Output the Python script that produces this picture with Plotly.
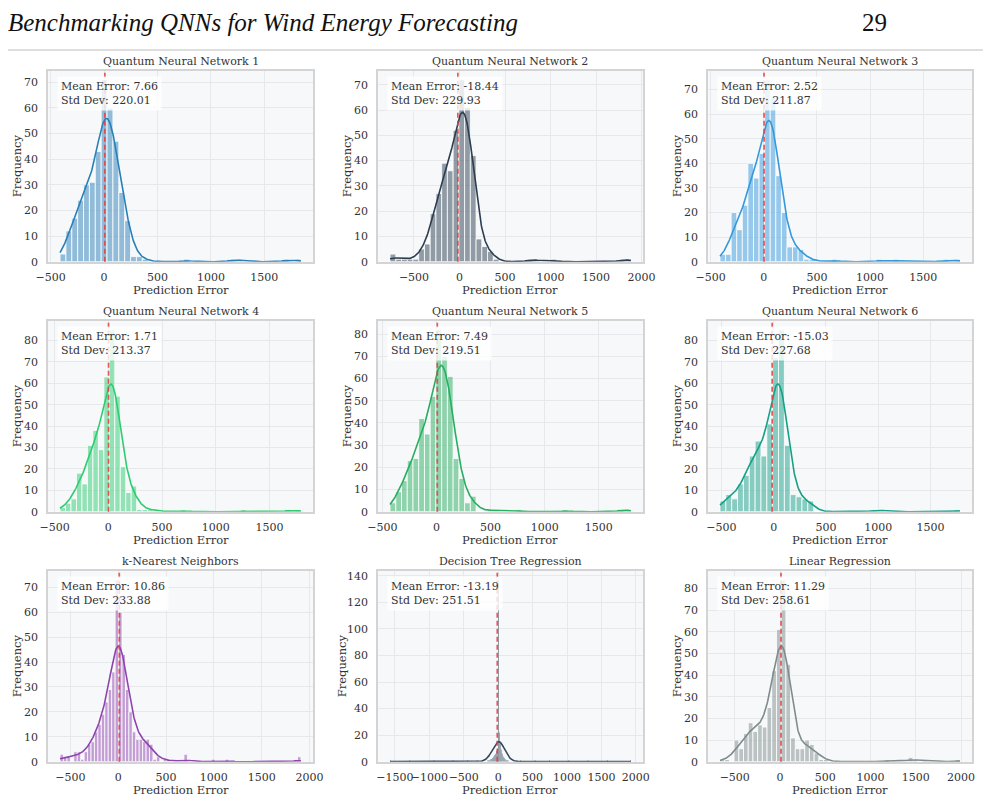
import numpy as np
import plotly.graph_objects as go

W, H = 991, 807
OFF = 8  # the page body margin shifts the figure by this much, so draw it that much up/left

titles = ["Quantum Neural Network 1", "Quantum Neural Network 2", "Quantum Neural Network 3",
          "Quantum Neural Network 4", "Quantum Neural Network 5", "Quantum Neural Network 6",
          "k-Nearest Neighbors", "Decision Tree Regression", "Linear Regression"]
colors = ["#2980b9", "#2c3e50", "#3498db", "#2ecc71", "#27ae60", "#16a085",
          "#8e44ad", "#34495e", "#7f8c8d"]
mean_errors = [7.66, -18.44, 2.52, 1.71, 7.49, -15.03, 10.86, -13.19, 11.29]
std_devs = [220.01, 229.93, 211.87, 213.37, 219.51, 227.68, 233.88, 251.51, 258.61]

# histogram bins: first edge, bin width, counts per bin
qnn1_start, qnn1_width = -412, 55
qnn1_counts = [3, 12, 17, 24, 30, 31, 43, 71, 60, 47, 27, 16, 2, 2, 1,
               0, 0, 0, 0, 0, 0, 1, 0, 0, 0, 0, 0, 0, 0, 1, 1,
               0, 0, 0, 0, 0, 0, 0, 1, 0, 1]

qnn2_start, qnn2_width = -763, 63
qnn2_counts = [3, 1, 1, 1, 1, 5, 7, 19, 27, 39, 36, 52, 72, 61, 42, 9, 6, 4, 1,
               0, 0, 0, 0, 0, 1, 1, 0, 0, 1,
               0, 0, 0, 0, 0, 0, 0, 0, 0, 0, 0, 1, 1]

qnn3_start, qnn3_width = -412, 52.5
qnn3_counts = [3, 3, 20, 13, 23, 40, 34, 44, 74, 67, 35, 20, 6, 6, 5, 1, 1,
               0, 0, 0, 1, 0, 0, 0, 0, 0, 0, 0, 1, 0, 0, 1,
               0, 0, 0, 0, 0, 0, 0, 0, 1, 0, 1]

qnn4_start, qnn4_width = -450, 51
qnn4_counts = [2, 4, 6, 18, 13, 31, 38, 29, 63, 85, 54, 21, 9, 12, 1, 1, 1, 1,
               0, 0, 0, 0, 1, 0, 0, 0, 0, 0, 0, 0, 0, 0, 0, 1,
               0, 0, 0, 0, 0, 0, 0, 1, 0, 1]

qnn5_start, qnn5_width = -429, 53
qnn5_counts = [4, 9, 14, 23, 24, 42, 35, 52, 82, 70, 61, 24, 15, 4, 7,
               0, 0, 1, 1, 0, 0, 0, 1, 0, 0, 0, 0, 0, 0, 0, 1,
               0, 0, 0, 0, 0, 0, 0, 0, 0, 1, 1]

qnn6_start, qnn6_width = -514, 56
qnn6_counts = [5, 8, 6, 13, 17, 26, 33, 26, 41, 72, 85, 31, 8, 7, 6, 5,
               0, 0, 0, 0, 0, 0, 0, 0, 0, 0, 1, 1,
               0, 0, 0, 0, 0, 0, 0, 0, 0, 0, 0, 0, 1]

knn_start, knn_width = -609, 36
knn_counts = [3, 2, 2, 0, 4, 4, 1, 4, 7, 8, 12, 15, 19, 24, 29, 36, 73, 60, 43, 29,
              20, 12, 9, 9, 8, 9, 7, 1, 2, 0, 1, 1,
              0, 0, 0, 0, 3, 0, 0, 0, 0, 0, 0, 0, 1, 0, 0, 0, 1,
              0, 0, 0, 0, 0, 0, 0, 0, 0, 0, 0, 0, 0, 0, 0, 0, 0, 0, 0, 0, 2]

# decision tree: very narrow bins, nearly everything sits around zero
dt_start, dt_width, dt_nbins = -1571, 14, 250
dt_core_first = 101
dt_core_counts = [1, 1, 1, 2, 2, 3, 4, 5, 6, 8, 10, 137, 22, 14, 9, 6, 4, 3, 2, 1, 1, 1]
dt_outlier_bins = [0, 20, 45, 65, 80, 90, 135, 150, 165, 185, 205, 225, 249]

lr_start, lr_width = -663, 52
lr_counts = [1, 1, 0, 10, 6, 13, 18, 14, 17, 16, 25, 42, 61, 84, 45, 11, 6, 6, 10, 8, 4, 1, 1,
             0, 0, 0, 0, 0, 0, 0, 0, 0, 0, 0, 0, 1, 0, 0, 0, 0, 2, 1, 0, 1,
             0, 0, 0, 0, 0, 0, 1]

dt_counts = [0] * dt_nbins
for k, c in enumerate(dt_core_counts):
    dt_counts[dt_core_first + k] = c
for k in dt_outlier_bins:
    dt_counts[k] += 1

hists = [(qnn1_start, qnn1_width, qnn1_counts), (qnn2_start, qnn2_width, qnn2_counts),
         (qnn3_start, qnn3_width, qnn3_counts), (qnn4_start, qnn4_width, qnn4_counts),
         (qnn5_start, qnn5_width, qnn5_counts), (qnn6_start, qnn6_width, qnn6_counts),
         (knn_start, knn_width, knn_counts), (dt_start, dt_width, dt_counts),
         (lr_start, lr_width, lr_counts)]


def kde_curve(start, width, counts, std):
    # gaussian kde on the binned values, scaled to counts like seaborn does
    c = np.asarray(counts, float)
    edges = start + width * np.arange(len(c) + 1)
    mids = edges[:-1] + width / 2
    bw = std * c.sum() ** (-0.2)
    xs = np.linspace(edges[0], edges[-1], 500)
    z = (xs[:, None] - mids[None, :]) / bw
    dens = (c[None, :] * np.exp(-0.5 * z ** 2)).sum(axis=1) / (bw * np.sqrt(2 * np.pi))
    return xs, dens * width


def rgba(hexcol, a):
    h = hexcol.lstrip("#")
    return "rgba(%d,%d,%d,%s)" % (int(h[0:2], 16), int(h[2:4], 16), int(h[4:6], 16), a)


def px(x):
    return (x - OFF) / W


def py(y):
    return 1 - (y - OFF) / H


font = "DejaVu Serif"
txt = "#333333"
col_px = [(48, 313), (378, 643), (708, 972)]
row_px = [(70.7, 261.7), (320.7, 511.7), (570.7, 761.7)]

fig = go.Figure()
shapes = []
annotations = []
layout_axes = {}

for i in range(9):
    r, c = divmod(i, 3)
    start, width, counts = hists[i]
    counts = np.asarray(counts, float)
    edges = start + width * np.arange(len(counts) + 1)
    mids = edges[:-1] + width / 2
    suffix = "" if i == 0 else str(i + 1)
    xa, ya = "x" + suffix, "y" + suffix
    line_w = 0 if width < 20 else 0.8

    fig.add_trace(go.Bar(x=mids, y=counts, width=width, xaxis=xa, yaxis=ya,
                         marker=dict(color=rgba(colors[i], 0.5),
                                     line=dict(color="white", width=line_w)),
                         showlegend=False, hoverinfo="skip"))
    xs, ks = kde_curve(start, width, counts, std_devs[i])
    fig.add_trace(go.Scatter(x=xs, y=ks, mode="lines", xaxis=xa, yaxis=ya,
                             line=dict(color=colors[i], width=1.6),
                             showlegend=False, hoverinfo="skip"))

    span = edges[-1] - edges[0]
    x0, x1 = col_px[c]
    y0, y1 = row_px[r]
    layout_axes["xaxis" + suffix] = dict(
        domain=[px(x0), px(x1)], anchor=ya, range=[edges[0] - 0.05 * span, edges[-1] + 0.05 * span],
        dtick=500, tickangle=0, automargin=False,
        showgrid=True, gridcolor="#e6e8eb", gridwidth=1, zeroline=False,
        showline=True, linecolor="#d4d4d4", linewidth=1.5, mirror=True,
        ticks="", ticklabelstandoff=4, tickfont=dict(family=font, size=11, color=txt))
    layout_axes["yaxis" + suffix] = dict(
        domain=[py(y1), py(y0)], anchor=xa, range=[0, counts.max() * 1.05],
        dtick=20 if counts.max() > 100 else 10, automargin=False,
        showgrid=True, gridcolor="#e6e8eb", gridwidth=1,
        zeroline=False, showline=True, linecolor="#d4d4d4", linewidth=1.5, mirror=True,
        ticks="", ticklabelstandoff=6, tickfont=dict(family=font, size=11, color=txt))

    shapes.append(dict(type="line", xref=xa, yref=ya + " domain", x0=mean_errors[i], x1=mean_errors[i],
                       y0=0, y1=1, line=dict(color="rgba(231,60,60,0.85)", width=1.7, dash="5px,3px")))

    annotations.append(dict(
        xref=xa + " domain", yref=ya + " domain", x=0.035, y=0.97, xanchor="left", yanchor="top",
        text="Mean Error: %.2f<br>Std Dev: %.2f" % (mean_errors[i], std_devs[i]),
        showarrow=False, align="left", bgcolor="rgba(255,255,255,0.8)", borderpad=3,
        font=dict(family=font, size=11, color=txt)))
    annotations.append(dict(
        xref="paper", yref="paper", x=px((x0 + x1) / 2), y=py(y0 - 9.5),
        text=titles[i], showarrow=False, xanchor="center", yanchor="middle",
        font=dict(family=font, size=11, color=txt)))
    annotations.append(dict(
        xref="paper", yref="paper", x=px((x0 + x1) / 2), y=py(y1 + 28),
        text="Prediction Error", showarrow=False, xanchor="center", yanchor="middle",
        font=dict(family=font, size=11.5, color=txt)))
    ytitle_off = 36 if counts.max() > 100 else 31
    annotations.append(dict(
        xref="paper", yref="paper", x=px(x0 - ytitle_off), y=py((y0 + y1) / 2),
        text="Frequency", showarrow=False, textangle=-90, xanchor="center", yanchor="middle",
        font=dict(family=font, size=11.5, color=txt)))

# page header (kept inside the figure top) and frame around the figure
annotations.append(dict(xref="paper", yref="paper", x=px(7), y=1, xanchor="left", yanchor="top",
                        text="<i>Benchmarking QNNs for Wind Energy Forecasting</i>", showarrow=False,
                        borderpad=0, font=dict(family="Liberation Serif", size=25, color="#111111")))
annotations.append(dict(xref="paper", yref="paper", x=px(874), y=1, xanchor="center", yanchor="top",
                        text="29", showarrow=False, borderpad=0,
                        font=dict(family="Liberation Serif", size=25, color="#111111")))
shapes.append(dict(type="line", xref="paper", yref="paper", x0=0, x1=px(985), y0=py(50), y1=py(50),
                   line=dict(color="#bdbdbd", width=1)))
shapes.append(dict(type="line", xref="paper", yref="paper", x0=px(985), x1=px(985), y0=0, y1=py(50),
                   line=dict(color="#bdbdbd", width=1)))

fig.update_layout(width=W, height=H, margin=dict(l=0, r=0, t=0, b=0),
                  paper_bgcolor="white", plot_bgcolor="#f7f8fa",
                  shapes=shapes, annotations=annotations, **layout_axes)

fig.write_html("out.html")
